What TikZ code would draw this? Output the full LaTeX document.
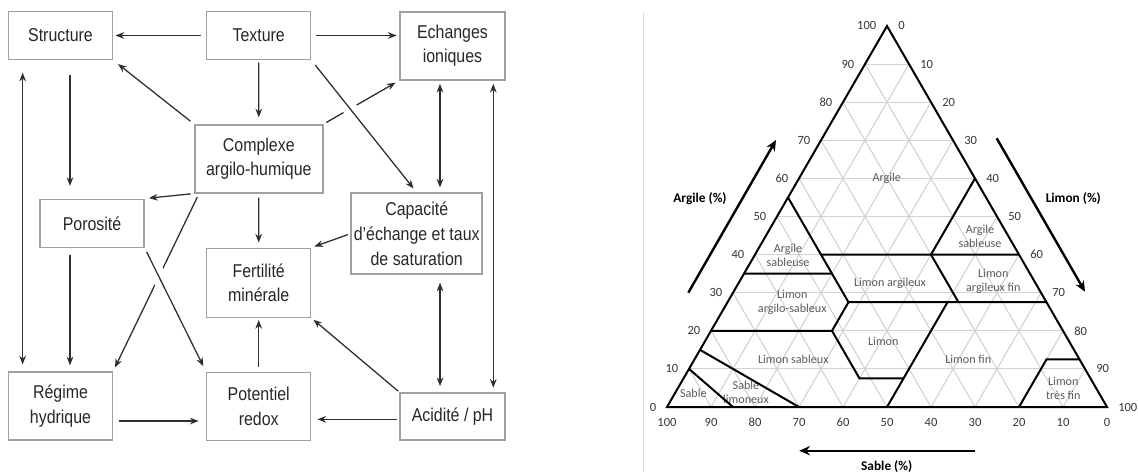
\documentclass[tikz,border=0pt]{standalone}
\usepackage{fontspec}
\setmainfont{Carlito}
\newfontfamily\boxfont[FakeStretch=0.86]{Liberation Sans}
\usetikzlibrary{arrows.meta,calc}
\definecolor{boxline}{HTML}{A0A0A0}
\definecolor{arrowcol}{HTML}{342C2C}
\definecolor{boxtext}{HTML}{2B2626}
\definecolor{gridcol}{HTML}{D2D2D2}
\definecolor{regioncol}{HTML}{5A5A5A}
\definecolor{tickcol}{HTML}{383838}
\definecolor{sepcol}{HTML}{DADADA}
\begin{document}
\begin{tikzpicture}[x=0.75pt,y=-0.75pt,
  box/.style={draw=boxline, line width=1.1pt, align=center, inner sep=0pt,
    text=boxtext, font=\boxfont\fontsize{13.9}{18.5}\selectfont},
  arr/.style={draw=arrowcol, line width=0.95pt, -{Stealth[length=6.5pt,width=5pt]}},
  dbl/.style={draw=arrowcol, line width=0.95pt, {Stealth[length=6.5pt,width=5pt]}-{Stealth[length=6.5pt,width=5pt]}},
  gapcut/.style={draw=white, line width=11pt},
  gridline/.style={draw=gridcol, line width=0.8pt},
  zone/.style={draw=black, line width=1.5pt},
  tick/.style={font=\fontsize{9.4}{10}\selectfont, text=tickcol, inner sep=0pt},
  region/.style={font=\fontsize{9.1}{10.5}\selectfont, text=regioncol, align=center, inner sep=0pt},
  axislabel/.style={font=\bfseries\fontsize{10}{12}\selectfont, inner sep=0pt},
  axisarrow/.style={draw=black, line width=1.8pt, -{Stealth[length=8pt,width=7pt]}}
]
\fill[white] (0,0) rectangle (1138,472);
\useasboundingbox (0,0) rectangle (1138,472);

% ---------------- left diagram ----------------
\node[box, minimum width=78pt, minimum height=36pt] (structure) at (60.5,35.5) {Structure};
\node[box, minimum width=78pt, minimum height=36pt] (texture) at (258.7,35.5) {Texture};
\node[box, minimum width=78.75pt, minimum height=51pt] (echanges) at (452.5,45.8) {Echanges\\ioniques};
\node[box, minimum width=96pt, minimum height=51pt] (complexe) at (258.8,158.8) {Complexe\\argilo-humique};
\node[box, minimum width=78pt, minimum height=36pt] (porosite) at (92,223.3) {Porosité};
\node[box, minimum width=98.25pt, minimum height=60.75pt] (capacite) at (416.7,233.7) {Capacité\\d’échange et taux\\de saturation};
\node[box, minimum width=78pt, minimum height=51.75pt] (fertilite) at (258.7,282.8) {Fertilité\\minérale};
\node[box, minimum width=78pt, minimum height=51pt] (regime) at (60.5,405.8) {Régime\\hydrique};
\node[box, minimum width=78pt, minimum height=51pt] (potentiel) at (258.7,406.3) {Potentiel\\redox};
\node[box, minimum width=78.75pt, minimum height=35.25pt] (acidite) at (452.5,416.3) {Acidité / pH};

\draw[arr, shorten <=3.75pt, shorten >=1.7pt] (texture.west) -- (structure.east);
\draw[arr, shorten <=3.2pt, shorten >=2pt] (texture.east) -- (texture.east -| echanges.west);
\draw[arr, shorten <=1.8pt, shorten >=5pt] (texture.south) -- (complexe.north);
\draw[arr, shorten <=3.5pt, shorten >=4.6pt] (complexe.north west) -- (structure.south east);
\draw[arr, shorten <=2.4pt, shorten >=3.2pt] (complexe.north east) -- (echanges.south west);
\draw[gapcut] ($(texture.south east)!0.345!(capacite.north)$) -- ($(texture.south east)!0.40!(capacite.north)$);
\draw[arr, shorten <=4.5pt, shorten >=3.8pt] (texture.south east) -- (capacite.north);
\draw[dbl, shorten <=2.5pt, shorten >=3.75pt] ([xshift=-9.4pt]echanges.south) -- ([xshift=-9.4pt]echanges.south |- capacite.north);
\draw[dbl, shorten <=2.5pt, shorten >=3.3pt] ([xshift=30.6pt]echanges.south) -- ([xshift=30.6pt]echanges.south |- acidite.north);
\draw[dbl, shorten <=5.8pt, shorten >=4.5pt] ([xshift=17.5pt]capacite.south) -- ([xshift=17.5pt]capacite.south |- acidite.north);
\draw[arr, shorten <=11pt, shorten >=9.5pt] ([xshift=7.1pt]structure.south) -- ([xshift=7.1pt]structure.south |- porosite.north);
\draw[dbl, shorten <=9.3pt, shorten >=5pt] ([xshift=-28.4pt]structure.south) -- ([xshift=-28.4pt]structure.south |- regime.north);
\draw[arr, shorten <=5pt, shorten >=4.3pt] ([xshift=-16.5pt]porosite.south) -- ([xshift=-16.5pt]porosite.south |- regime.north);
\draw[arr, shorten <=2.5pt, shorten >=3.2pt] (complexe.south west) -- (porosite.north east);
\draw[arr, shorten <=3pt, shorten >=3pt] ([xshift=3.75pt]complexe.south west) -- (regime.north east);
\draw[gapcut] ($(porosite.south east)!0.18!(potentiel.north west)$) -- ($(porosite.south east)!0.295!(potentiel.north west)$);
\draw[arr, shorten <=3.3pt, shorten >=4.5pt] (porosite.south east) -- (potentiel.north west);
\draw[arr, shorten <=3pt, shorten >=3.75pt] (complexe.south) -- (fertilite.north);
\draw[arr, shorten <=2pt, shorten >=2.3pt] (capacite.west) -- (fertilite.north east);
\draw[arr, shorten <=3.3pt, shorten >=1.5pt] (potentiel.north) -- (fertilite.south);
\draw[arr, shorten <=1pt, shorten >=2pt] (acidite.north west) -- (fertilite.south east);
\draw[arr, shorten <=4.2pt, shorten >=5.5pt] ([yshift=-11.4pt]regime.east) -- ([yshift=-11.4pt]regime.east -| potentiel.west);
\draw[arr, shorten <=2pt, shorten >=4.5pt] ([yshift=-2.25pt]acidite.west) -- ([yshift=-2.25pt]acidite.west -| potentiel.east);

% separator
\draw[sepcol, line width=1.1pt] (643.3,12.7) -- (643.3,472);

% ---------------- texture triangle ----------------
\coordinate (tA) at (667,407);
\coordinate (tB) at (1107,407);
\coordinate (tC) at (887,26);

\foreach \i in {1,...,9}{
  \pgfmathsetmacro\a{\i/10}
  \pgfmathsetmacro\b{1-\i/10}
  \draw[gridline] (barycentric cs:tC=\a,tA=\b) -- (barycentric cs:tC=\a,tB=\b);
  \draw[gridline] (barycentric cs:tA=\a,tB=\b) -- (barycentric cs:tA=\a,tC=\b);
  \draw[gridline] (barycentric cs:tB=\a,tA=\b) -- (barycentric cs:tB=\a,tC=\b);
}

\node[region] (rArgile) at (886.7,178.3) {Argile};
\node[region] (rASl) at (788,255) {Argile\\sableuse};
\node[region] (rASr) at (980,236) {Argile\\sableuse};
\node[region] (rLA) at (890,283.3) {Limon argileux};
\node[region] (rLAF) at (993.3,281.7) {Limon\\argileux fin};
\node[region] (rLAS) at (792.3,302.7) {Limon\\argilo-sableux};
\node[region] (rL) at (883.3,341) {Limon};
\node[region] (rLS) at (793.3,359.3) {Limon sableux};
\node[region] (rLF) at (968.3,359.3) {Limon fin};
\node[region] (rS) at (693.3,393.3) {Sable};
\node[region] (rSL) at (746,392.3) {Sable\\limoneux};
\node[region] (rLTF) at (1063.3,388.7) {Limon\\très fin};

\draw[zone] (barycentric cs:tC=0.55,tA=0.45) -- (barycentric cs:tC=0.275,tB=0.275,tA=0.45);
\draw[zone] (barycentric cs:tC=0.35,tA=0.65) -- (barycentric cs:tC=0.35,tB=0.20,tA=0.45);
\draw[zone] (barycentric cs:tC=0.40,tB=0.15,tA=0.45) -- (barycentric cs:tC=0.40,tB=0.60);
\draw[zone] (barycentric cs:tC=0.60,tB=0.40) -- (barycentric cs:tC=0.40,tB=0.40,tA=0.20) -- (barycentric cs:tC=0.275,tB=0.525,tA=0.20);
\draw[zone] (barycentric cs:tC=0.275,tB=0.275,tA=0.45) -- (barycentric cs:tC=0.275,tB=0.725);
\draw[zone] (barycentric cs:tC=0.275,tB=0.275,tA=0.45) -- (barycentric cs:tC=0.20,tB=0.275,tA=0.525) -- (barycentric cs:tC=0.075,tB=0.40,tA=0.525) -- (barycentric cs:tC=0.075,tB=0.50,tA=0.425);
\draw[zone] (barycentric cs:tB=0.50,tA=0.50) -- (barycentric cs:tC=0.275,tB=0.50,tA=0.225);
\draw[zone] (barycentric cs:tC=0.20,tA=0.80) -- (barycentric cs:tC=0.20,tB=0.275,tA=0.525);
\draw[zone] (barycentric cs:tC=0.15,tA=0.85) -- (barycentric cs:tB=0.30,tA=0.70);
\draw[zone] (barycentric cs:tC=0.10,tA=0.90) -- (barycentric cs:tB=0.15,tA=0.85);
\draw[zone] (barycentric cs:tB=0.80,tA=0.20) -- (barycentric cs:tC=0.125,tB=0.80,tA=0.075) -- (barycentric cs:tC=0.125,tB=0.875);

\draw[zone, line join=miter] (tA) -- (tB) -- (tC) -- cycle;

\foreach \i in {0,...,10}{
  \pgfmathtruncatemacro\v{10*\i}
  \pgfmathtruncatemacro\w{100-10*\i}
  \node[tick, anchor=east] (lt\i) at ({667+22*\i-10.5},{407-38.105*\i}) {\v};
  \node[tick, anchor=west] (rt\i) at ({1107-22*\i+11},{407-38.105*\i}) {\w};
  \node[tick] (bt\i) at ({1107-44*\i},422.7) {\v};
}

\coordinate (argA) at (688.3,292.7);
\coordinate (argB) at (776,140);
\coordinate (limA) at (996.7,138.3);
\coordinate (limB) at (1085,291.7);
\coordinate (sabA) at (975,450.7);
\coordinate (sabB) at (799.3,450.7);
\draw[axisarrow] (argA) -- (argB);
\draw[axisarrow] (limA) -- (limB);
\draw[axisarrow] (sabA) -- (sabB);
\node[axislabel] (labArg) at (700,199) {Argile (\%)};
\node[axislabel] (labLim) at (1073.3,199) {Limon (\%)};
\node[axislabel] (labSab) at (886.7,466.7) {Sable (\%)};
\end{tikzpicture}
\end{document}
